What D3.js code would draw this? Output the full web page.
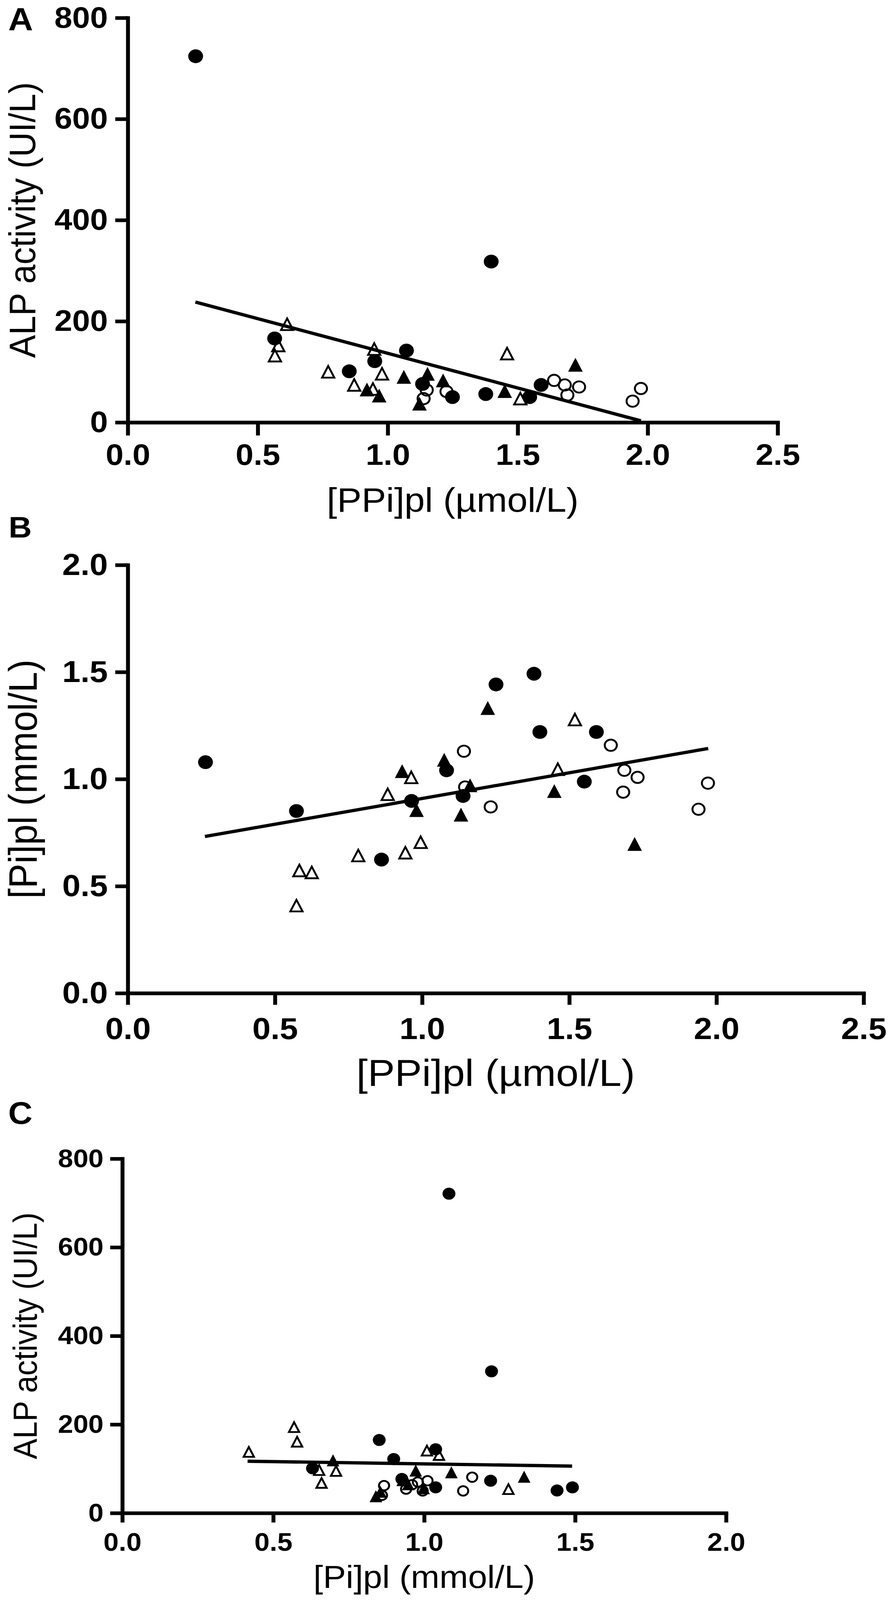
<!DOCTYPE html>
<html>
<head>
<meta charset="utf-8">
<script src="https://cdn.jsdelivr.net/npm/d3@7"></script>
<style>
  html, body { margin: 0; padding: 0; background: #ffffff; overflow: hidden; }
  svg { display: block; width: 100vw; height: 100vh; }
</style>
</head>
<body>
<svg id="chart" viewBox="0 0 2280 4398" preserveAspectRatio="none"></svg>
<script>
// colors and fonts
const BLACK = '#000000';
const WHITE = '#ffffff';
const FONT = "'Liberation Sans', Arial, Helvetica, sans-serif";

// axis titles and tick values
const ppiTitle = '[PPi]pl (µmol/L)';
const piTitle = '[Pi]pl (mmol/L)';
const alpTitle = 'ALP activity (UI/L)';
const ppiTicks = [0, 0.5, 1.0, 1.5, 2.0, 2.5];
const piTicksX = [0, 0.5, 1.0, 1.5, 2.0];
const piTicksY = [0, 0.5, 1.0, 1.5, 2.0];
const alpTicks = [0, 200, 400, 600, 800];

// panel A: [PPi]pl vs ALP activity
const aFilledCircles = [[0.261, 724], [0.565, 166], [0.852, 101], [0.95, 121], [1.072, 142], [1.134, 76],
  [1.249, 50], [1.377, 56], [1.398, 318], [1.546, 50], [1.59, 74]];
const aOpenCircles = [[1.138, 47], [1.15, 64], [1.226, 61], [1.64, 83], [1.681, 74], [1.691, 54],
  [1.736, 70], [1.942, 42], [1.974, 67]];
const aFilledTriangles = [[0.92, 65], [0.967, 53], [1.062, 90], [1.122, 37], [1.153, 96], [1.213, 83],
  [1.45, 62], [1.722, 114]];
const aOpenTriangles = [[0.566, 132], [0.579, 152], [0.613, 194], [0.771, 100], [0.871, 74], [0.943, 66],
  [0.948, 145], [0.978, 96], [1.459, 136], [1.51, 47]];
const aFit = [[0.26, 238], [1.974, 3]];

// panel B: [PPi]pl vs [Pi]pl
const bFilledCircles = [[0.264, 1.079], [0.573, 0.851], [0.862, 0.624], [0.964, 0.898], [1.083, 1.041],
  [1.139, 0.921], [1.251, 1.442], [1.38, 1.492], [1.4, 1.22], [1.551, 0.988], [1.592, 1.22]];
const bOpenCircles = [[1.142, 1.13], [1.146, 0.963], [1.233, 0.87], [1.641, 1.158], [1.687, 1.041],
  [1.683, 0.939], [1.732, 1.008], [1.939, 0.859], [1.971, 0.981]];
const bFilledTriangles = [[0.932, 1.037], [0.981, 0.855], [1.075, 1.09], [1.132, 0.834], [1.163, 0.971],
  [1.223, 1.332], [1.449, 0.944], [1.722, 0.697]];
const bOpenTriangles = [[0.573, 0.409], [0.583, 0.573], [0.625, 0.564], [0.783, 0.643], [0.883, 0.929],
  [0.943, 0.656], [0.963, 1.008], [0.995, 0.705], [1.461, 1.046], [1.519, 1.278]];
const bFit = [[0.262, 0.732], [1.972, 1.143]];

// panel C: [Pi]pl vs ALP activity
const cFilledCircles = [[1.082, 721], [1.223, 320], [0.851, 165], [0.899, 122], [0.63, 101], [0.926, 77],
  [1.038, 144], [1.038, 58], [1.22, 73], [1.44, 51], [1.491, 58]];
const cOpenCircles = [[0.867, 62], [0.86, 40], [0.94, 54], [0.96, 64], [0.979, 70], [1.011, 73],
  [0.995, 50], [1.129, 50], [1.159, 81]];
const cFilledTriangles = [[0.698, 119], [0.84, 38], [0.855, 48], [0.947, 65], [0.972, 96], [0.998, 56],
  [1.09, 92], [1.331, 82]];
const cOpenTriangles = [[0.419, 138], [0.569, 194], [0.579, 161], [0.652, 97], [0.66, 68], [0.708, 95],
  [0.93, 74], [1.009, 141], [1.049, 131], [1.279, 54]];
const cFit = [[0.415, 117], [1.49, 106]];

// layout of the three panels (pixels of the 2280 x 4398 figure)
const panels = [
  {
    letter: 'A', letterX: 21, letterY: 83, letterSize: 88,
    left: 327, right: 1990, top: 49, bottom: 1161,
    xDomain: [0, 2.5], xTicks: ppiTicks, xFormat: d3.format('.1f'),
    yDomain: [0, 800], yTicks: alpTicks, yFormat: d3.format('d'),
    tickFont: 82, xTickLen: 36, xPad: 23, yTickLen: 32, yPad: 19,
    xTitle: ppiTitle, xTitleY: 1407, xTitleSize: 94,
    yTitle: alpTitle, yTitleX: 90, yTitleSize: 95,
    marker: 38, stroke: 10, fitWidth: 9,
    series: [
      { shape: 'openCircle', points: aOpenCircles },
      { shape: 'openTriangle', points: aOpenTriangles },
      { shape: 'filledTriangle', points: aFilledTriangles },
      { shape: 'filledCircle', points: aFilledCircles }
    ],
    fit: aFit
  },
  {
    letter: 'B', letterX: 22, letterY: 1477, letterSize: 82,
    left: 327, right: 2210, top: 1553, bottom: 2730,
    xDomain: [0, 2.5], xTicks: ppiTicks, xFormat: d3.format('.1f'),
    yDomain: [0, 2.0], yTicks: piTicksY, yFormat: d3.format('.1f'),
    tickFont: 84, xTickLen: 32, xPad: 34, yTickLen: 32, yPad: 19,
    xTitle: ppiTitle, xTitleY: 2985, xTitleSize: 104,
    yTitle: piTitle, yTitleX: 94, yTitleSize: 102,
    marker: 38, stroke: 10, fitWidth: 9,
    series: [
      { shape: 'openCircle', points: bOpenCircles },
      { shape: 'openTriangle', points: bOpenTriangles },
      { shape: 'filledTriangle', points: bFilledTriangles },
      { shape: 'filledCircle', points: bFilledCircles }
    ],
    fit: bFit
  },
  {
    letter: 'C', letterX: 21, letterY: 3089, letterSize: 86,
    left: 313, right: 1858, top: 3185, bottom: 4159,
    xDomain: [0, 2.0], xTicks: piTicksX, xFormat: d3.format('.1f'),
    yDomain: [0, 800], yTicks: alpTicks, yFormat: d3.format('d'),
    tickFont: 70, xTickLen: 26, xPad: 28, yTickLen: 31, yPad: 17,
    xTitle: piTitle, xTitleY: 4365, xTitleSize: 88,
    yTitle: alpTitle, yTitleX: 94, yTitleSize: 85,
    marker: 33, stroke: 10, fitWidth: 9,
    series: [
      { shape: 'openCircle', points: cOpenCircles },
      { shape: 'openTriangle', points: cOpenTriangles },
      { shape: 'filledTriangle', points: cFilledTriangles },
      { shape: 'filledCircle', points: cFilledCircles }
    ],
    fit: cFit
  }
];

/**
 * path for a triangle pointing up, centred on its bounding box
 * @param {number} w - width
 * @param {number} h - height
 */
function trianglePath(w, h) {
  return `M0,${-h / 2}L${w / 2},${h / 2}L${-w / 2},${h / 2}Z`;
}

/**
 * path for a marker of the given shape
 * @param {string} shape - one of the four series shapes
 * @param {number} size - outer diameter of the marker
 */
function markerPath(shape, size) {
  if (shape === 'filledCircle') {
    return d3.symbol().type(d3.symbolCircle).size(Math.PI * (size / 2) ** 2)();
  }
  if (shape === 'openCircle') {
    const r = size / 2 - 3.5;
    return d3.symbol().type(d3.symbolCircle).size(Math.PI * r * r)();
  }
  if (shape === 'filledTriangle') {
    return trianglePath(size * 0.98, size);
  }
  // open triangle, stroke included in the outer size
  return trianglePath(size * 0.98 - 6, size - 6);
}

/**
 * style an axis group that d3.axis has just drawn
 */
function styleAxis(g, p) {
  g.attr('font-family', FONT)
    .attr('font-size', p.tickFont)
    .attr('font-weight', 'bold');
  g.select('.domain')
    .attr('stroke', BLACK)
    .attr('stroke-width', p.stroke)
    .attr('stroke-linecap', 'square');
  g.selectAll('.tick line')
    .attr('stroke', BLACK)
    .attr('stroke-width', p.stroke);
  g.selectAll('.tick text')
    .attr('fill', BLACK);
}

function drawPanel(p) {
  const root = d3.select('#chart').append('g');

  const x = d3.scaleLinear().domain(p.xDomain).range([p.left, p.right]);
  const y = d3.scaleLinear().domain(p.yDomain).range([p.bottom, p.top]);

  // panel letter
  root.append('text')
    .attr('x', p.letterX)
    .attr('y', p.letterY)
    .attr('font-family', FONT)
    .attr('font-weight', 'bold')
    .attr('font-size', p.letterSize)
    .text(p.letter);

  // regression line
  const line = d3.line().x(d => x(d[0])).y(d => y(d[1]));
  root.append('path')
    .datum(p.fit)
    .attr('d', line)
    .attr('fill', 'none')
    .attr('stroke', BLACK)
    .attr('stroke-width', p.fitWidth);

  // data points, one group per series
  p.series.forEach(s => {
    const open = s.shape.startsWith('open');
    root.append('g')
      .selectAll('path')
      .data(s.points)
      .join('path')
      .attr('transform', d => `translate(${x(d[0])},${y(d[1])})`)
      .attr('d', markerPath(s.shape, p.marker))
      .attr('fill', open ? 'none' : BLACK)
      .attr('stroke', open ? BLACK : 'none')
      .attr('stroke-width', open ? 5 : 0);
  });

  // axes
  root.append('g')
    .attr('transform', `translate(0,${p.bottom})`)
    .call(d3.axisBottom(x)
      .tickValues(p.xTicks)
      .tickFormat(p.xFormat)
      .tickSize(p.xTickLen)
      .tickPadding(p.xPad)
      .tickSizeOuter(0))
    .call(g => styleAxis(g, p));

  root.append('g')
    .attr('transform', `translate(${p.left},0)`)
    .call(d3.axisLeft(y)
      .tickValues(p.yTicks)
      .tickFormat(p.yFormat)
      .tickSize(p.yTickLen)
      .tickPadding(p.yPad)
      .tickSizeOuter(0))
    .call(g => styleAxis(g, p));

  // axis titles
  root.append('text')
    .attr('x', (p.left + p.right) / 2)
    .attr('y', p.xTitleY)
    .attr('text-anchor', 'middle')
    .attr('font-family', FONT)
    .attr('font-size', p.xTitleSize)
    .text(p.xTitle);

  root.append('text')
    .attr('transform', `translate(${p.yTitleX},${(p.top + p.bottom) / 2}) rotate(-90)`)
    .attr('text-anchor', 'middle')
    .attr('font-family', FONT)
    .attr('font-size', p.yTitleSize)
    .text(p.yTitle);
}

function render() {
  d3.select('#chart').selectAll('*').remove();
  d3.select('#chart').append('rect')
    .attr('width', 2280)
    .attr('height', 4398)
    .attr('fill', WHITE);
  panels.forEach(drawPanel);
}

render();
</script>
</body>
</html>
